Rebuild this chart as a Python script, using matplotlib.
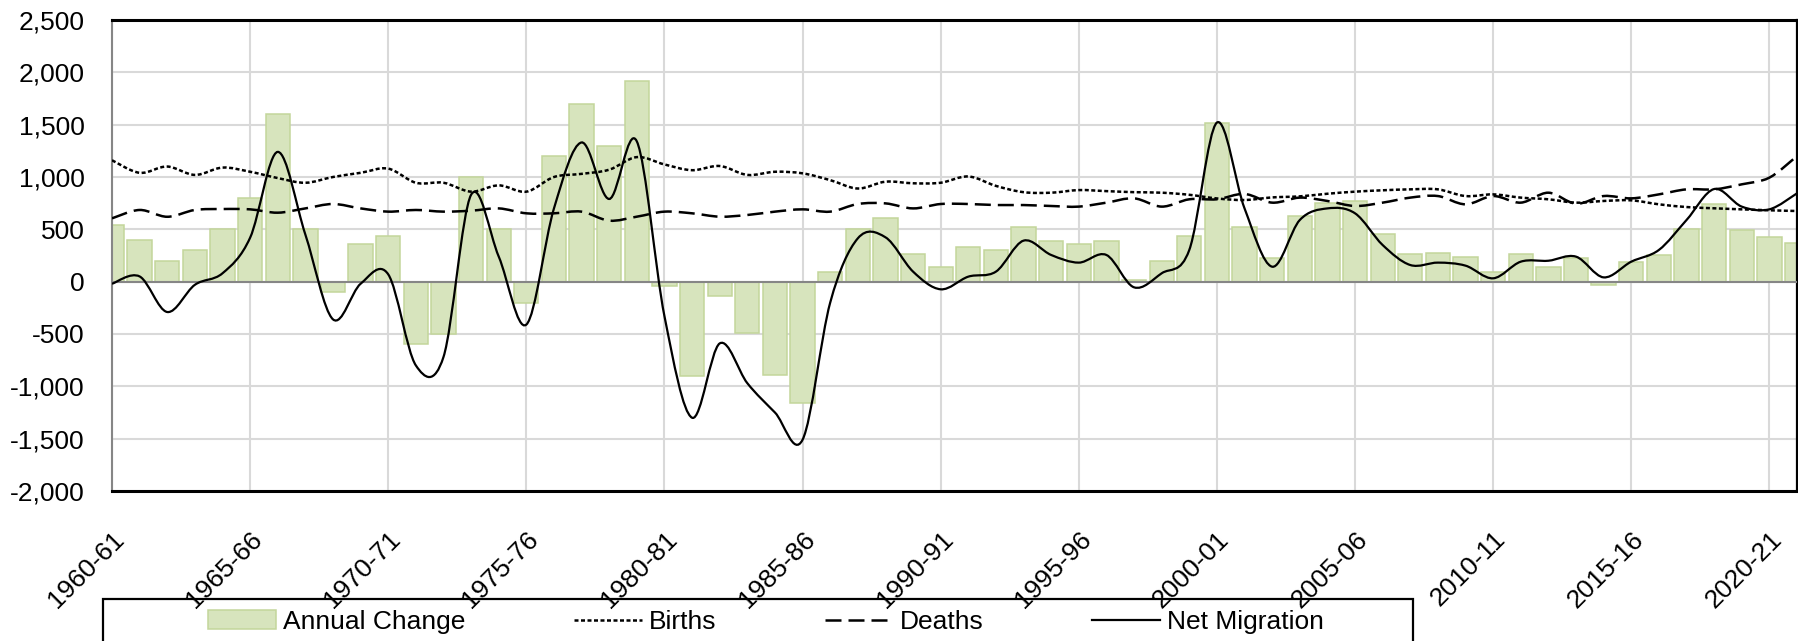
import matplotlib
matplotlib.use('Agg')
import matplotlib.pyplot as plt
from matplotlib.path import Path
from matplotlib.patches import PathPatch, Rectangle
from matplotlib.lines import Line2D
from matplotlib.transforms import ScaledTranslation
import numpy as np

plt.rcParams['font.family'] = ['Liberation Sans', 'DejaVu Sans']

# ---------------- data ----------------
categories = [
    "1960-61", "1961-62", "1962-63", "1963-64", "1964-65", "1965-66", "1966-67", "1967-68",
    "1968-69", "1969-70", "1970-71", "1971-72", "1972-73", "1973-74", "1974-75", "1975-76",
    "1976-77", "1977-78", "1978-79", "1979-80", "1980-81", "1981-82", "1982-83", "1983-84",
    "1984-85", "1985-86", "1986-87", "1987-88", "1988-89", "1989-90", "1990-91", "1991-92",
    "1992-93", "1993-94", "1994-95", "1995-96", "1996-97", "1997-98", "1998-99", "1999-00",
    "2000-01", "2001-02", "2002-03", "2003-04", "2004-05", "2005-06", "2006-07", "2007-08",
    "2008-09", "2009-10", "2010-11", "2011-12", "2012-13", "2013-14", "2014-15", "2015-16",
    "2016-17", "2017-18", "2018-19", "2019-20", "2020-21", "2021-22",
]

annual_change = [
    540, 400, 200, 300, 500, 800, 1600, 500, -100, 360,
    440, -600, -500, 1000, 500, -200, 1200, 1700, 1300, 1920,
    -40, -900, -140, -490, -890, -1160, 90, 500, 610, 260,
    140, 335, 300, 520, 390, 360, 385, 20, 200, 435,
    1520, 520, 230, 625, 750, 775, 455, 260, 270, 240,
    90, 260, 140, 230, -30, 190, 250, 505, 740, 495,
    425, 365,
]

births = [
    1160, 1040, 1100, 1020, 1090, 1050, 990, 945, 1000, 1040,
    1080, 945, 945, 860, 920, 860, 1000, 1030, 1070, 1190,
    1120, 1065, 1105, 1020, 1050, 1035, 970, 890, 955, 940,
    945, 1005, 915, 855, 850, 875, 865, 855, 850, 830,
    795, 780, 805, 815, 840, 860, 873, 882, 882, 818,
    834, 803, 787, 755, 771, 777, 739, 713, 701, 691,
    682, 675,
]

deaths = [
    605, 685, 620, 685, 694, 691, 659, 700, 742, 700,
    669, 685, 669, 678, 700, 653, 653, 669, 583, 621,
    669, 653, 621, 637, 669, 691, 669, 742, 748, 700,
    742, 742, 732, 732, 723, 717, 755, 796, 717, 787,
    787, 838, 755, 803, 771, 723, 755, 803, 818, 739,
    818, 755, 850, 745, 818, 796, 834, 882, 882, 930,
    994, 1200,
]

net_migration = [
    -20, 50, -290, -30, 80, 420, 1240, 450, -360, -20,
    70, -800, -720, 830, 240, -410, 700, 1330, 790, 1340,
    -330, -1300, -590, -970, -1250, -1510, -200, 414, 424, 96,
    -73, 48, 96, 392, 255, 182, 255, -54, 80, 303,
    1520, 700, 143, 589, 700, 653, 350, 159, 182, 153,
    32, 191, 200, 239, 41, 191, 303, 589, 885, 717,
    691, 844,
]

y_ticks = [-2000, -1500, -1000, -500, 0, 500, 1000, 1500, 2000, 2500]
legend_labels = ["Annual Change", "Births", "Deaths", "Net Migration"]

# ---------------- figure ----------------
W, H = 1798, 641
fig = plt.figure(figsize=(W / 100, H / 100), dpi=100)
ax = fig.add_axes([112 / W, 1 - 491 / H, (1797 - 112) / W, (491 - 20) / H])

x = np.arange(len(categories))
bars = ax.bar(x, annual_change, width=0.88, color='#D7E4BD', edgecolor='#C3D69B',
              linewidth=1.1, zorder=2)


def smooth_path(xs, ys):
    """Excel-like smoothed line: cubic Bezier (Catmull-Rom) through the points."""
    xs = list(map(float, xs))
    ys = list(map(float, ys))
    n = len(xs)
    verts = [(xs[0], ys[0])]
    codes = [Path.MOVETO]
    for i in range(n - 1):
        xp, yp = (xs[i - 1], ys[i - 1]) if i > 0 else (xs[i], ys[i])
        xn, yn = (xs[i + 2], ys[i + 2]) if i + 2 < n else (xs[i + 1], ys[i + 1])
        c1 = (xs[i] + (xs[i + 1] - xp) / 6, ys[i] + (ys[i + 1] - yp) / 6)
        c2 = (xs[i + 1] - (xn - xs[i]) / 6, ys[i + 1] - (yn - ys[i]) / 6)
        verts += [c1, c2, (xs[i + 1], ys[i + 1])]
        codes += [Path.CURVE4] * 3
    return Path(verts, codes)


LW = 1.6
LWD = 1.8
births_ls = (0, (1.6, 1.0))
deaths_ls = (0, (6.4, 2.8))

ax.add_patch(PathPatch(smooth_path(x, births), fill=False, edgecolor='black', lw=LWD,
                       linestyle=births_ls, capstyle='butt', zorder=4))
ax.add_patch(PathPatch(smooth_path(x, deaths), fill=False, edgecolor='black', lw=LWD,
                       linestyle=deaths_ls, capstyle='butt', zorder=4))
ax.add_patch(PathPatch(smooth_path(x, net_migration), fill=False, edgecolor='black', lw=LW,
                       linestyle='-', zorder=5))

ax.axhline(0, color='#868686', lw=1.5, zorder=3)

ax.set_xlim(0, len(categories) - 1)
ax.set_ylim(-2000, 2500)
ax.set_yticks(y_ticks)
ax.set_yticklabels([f"{v:,}" for v in y_ticks], fontsize=19)
ax.set_xticks(x[::5])
ax.set_xticklabels(categories[::5], fontsize=19)
shift = ScaledTranslation(0.13, 0.04, fig.dpi_scale_trans)
for lab in ax.get_xticklabels():
    lab.set_rotation(45)
    lab.set_ha('right')
    lab.set_va('top')
    lab.set_rotation_mode('anchor')
    lab.set_transform(lab.get_transform() + shift)

ax.tick_params(axis='both', length=0)
ax.tick_params(axis='y', pad=19.5)
ax.tick_params(axis='x', pad=26)

ax.grid(True, color='#D9D9D9', lw=1.5)
ax.set_axisbelow(True)

for side in ['top', 'bottom']:
    ax.spines[side].set_color('black')
    ax.spines[side].set_linewidth(2.2)
ax.spines['right'].set_color('black')
ax.spines['right'].set_linewidth(1.6)
ax.spines['left'].set_color('#868686')
ax.spines['left'].set_linewidth(1.5)

# ---------------- legend ----------------
handles = [
    bars,
    Line2D([], [], color='black', lw=LWD, linestyle=births_ls),
    Line2D([], [], color='black', lw=LWD, linestyle=deaths_ls),
    Line2D([], [], color='black', lw=LW, linestyle='-'),
]
fig.legend(handles, legend_labels, loc='center left',
           bbox_to_anchor=(208 / W, 1 - 622 / H), ncol=4, frameon=False,
           fontsize=19, handlelength=2.58, handletextpad=0.27, columnspacing=4.1,
           borderpad=0, borderaxespad=0, handleheight=0.72)

fig.add_artist(Rectangle((103 / W, -0.2), (1413 - 103) / W, 0.2 + (1 - 599 / H),
                         transform=fig.transFigure, fill=False, edgecolor='black',
                         linewidth=1.6, clip_on=False))

fig.savefig('out.png', dpi=100)
